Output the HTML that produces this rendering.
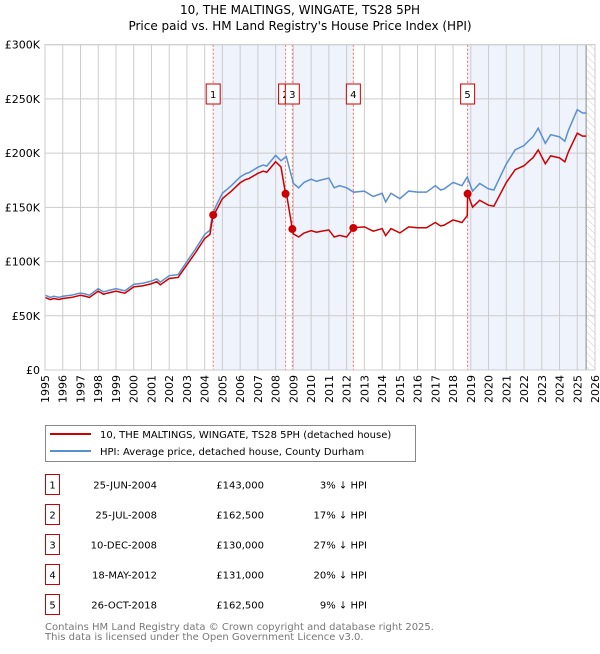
<!DOCTYPE html>
<html><head><meta charset="utf-8"><style>
body{margin:0;background:#fff;font-family:"DejaVu Sans","Liberation Sans",sans-serif;}
svg text{font-family:"DejaVu Sans","Liberation Sans",sans-serif;}
</style></head><body>
<svg id="c" width="600" height="650" xmlns="http://www.w3.org/2000/svg">
<defs><pattern id="hatch" width="5" height="5" patternUnits="userSpaceOnUse" patternTransform="rotate(-45)"><line x1="0" y1="0" x2="0" y2="5" stroke="#ccc" stroke-width="1"/></pattern></defs>
<text x="300" y="14" text-anchor="middle" font-size="12" fill="#000">10, THE MALTINGS, WINGATE, TS28 5PH</text>
<text x="300" y="30" text-anchor="middle" font-size="12" fill="#000">Price paid vs. HM Land Registry's House Price Index (HPI)</text>
<g id="plot"></g>
<g>
<rect x="45.5" y="425.5" width="370" height="36" fill="#fff" stroke="#888"/>
<line x1="50" y1="434" x2="91" y2="434" stroke="#cc0000" stroke-width="2"/>
<text x="100" y="438" font-size="10">10, THE MALTINGS, WINGATE, TS28 5PH (detached house)</text>
<line x1="50" y1="451" x2="91" y2="451" stroke="#5b8fd0" stroke-width="2"/>
<text x="100" y="455" font-size="10">HPI: Average price, detached house, County Durham</text>
</g>
<g id="table"></g>
<text x="45" y="630" font-size="10" fill="#777">Contains HM Land Registry data © Crown copyright and database right 2025.</text>
<text x="45" y="640" font-size="10" fill="#777">This data is licensed under the Open Government Licence v3.0.</text>
</svg>
<script>
const hpiYears=[1995,1995.3,1995.5,1995.8,1996,1996.5,1997,1997.3,1997.5,1998,1998.3,1998.5,1999,1999.5,2000,2000.5,2001,2001.3,2001.5,2002,2002.5,2003,2003.5,2004,2004.3,2004.4,2004.6,2005,2005.5,2006,2006.3,2006.5,2007,2007.3,2007.5,2008,2008.3,2008.6,2009,2009.3,2009.6,2010,2010.3,2010.5,2011,2011.3,2011.6,2012,2012.4,2013,2013.5,2014,2014.2,2014.5,2015,2015.5,2016,2016.5,2017,2017.3,2017.5,2018,2018.5,2018.8,2019.1,2019.5,2019.7,2020,2020.3,2021,2021.5,2022,2022.3,2022.5,2022.8,2023.2,2023.5,2024,2024.3,2024.5,2025,2025.3,2025.5];
const hpiValues=[69,67,68,67,68,69,71,70,69,75,72,73,75,73,79,80,82,84,81,87,88,100,112,125,129,140,150,163,170,178,181,182,187,189,188,198,193,197,172,168,173,176,174,175,177,168,170,168,164,165,160,163,155,163,158,165,164,164,170,166,167,173,170,178,165,172,170,167,166,190,203,207,212,215,223,209,217,215,211,221,240,237,237];
const saleLabels=["1","2","3","4","5"];
const saleDates=[2004.48,2008.56,2008.94,2012.38,2018.82];
const salePrices=[143,162.5,130,131,162.5];
const salePctBelow=[3,17,27,20,9];
const saleDateText=["25-JUN-2004","25-JUL-2008","10-DEC-2008","18-MAY-2012","26-OCT-2018"];
const salePriceText=["£143,000","£162,500","£130,000","£131,000","£162,500"];
const saleHpiText=["3% ↓ HPI","17% ↓ HPI","27% ↓ HPI","20% ↓ HPI","9% ↓ HPI"];
const yTicks=[0,50,100,150,200,250,300];
const yTickLabels=["£0","£50K","£100K","£150K","£200K","£250K","£300K"];
const xTicks=[1995,1996,1997,1998,1999,2000,2001,2002,2003,2004,2005,2006,2007,2008,2009,2010,2011,2012,2013,2014,2015,2016,2017,2018,2019,2020,2021,2022,2023,2024,2025,2026];

const X0=45,X1=595,Y0=370,Y1=44.7;
const xs=t=>X0+(t-1995)/31*(X1-X0);
const ys=v=>Y0-v/300*(Y0-Y1);
const NS="http://www.w3.org/2000/svg";
const plot=document.getElementById('plot');
function mk(tag,attrs,parent){const e=document.createElementNS(NS,tag);for(const k in attrs)e.setAttribute(k,attrs[k]);(parent||plot).appendChild(e);return e;}
function hpiAt(t){for(let i=0;i<hpiYears.length-1;i++){if(t>=hpiYears[i]&&t<=hpiYears[i+1]){const f=(t-hpiYears[i])/(hpiYears[i+1]-hpiYears[i]);return hpiValues[i]+f*(hpiValues[i+1]-hpiValues[i]);}}return hpiValues[hpiValues.length-1];}

const bandStarts=[saleDates[0],saleDates[2],saleDates[4]];
const bandEnds=[saleDates[1],saleDates[3],2025.5];
for(let i=0;i<bandStarts.length;i++){
 const r=mk('rect',{x:xs(bandStarts[i]),y:Y1,width:xs(bandEnds[i])-xs(bandStarts[i]),height:Y0-Y1,fill:'#eef3fc'});
 
 
}
const h=mk('rect',{x:xs(2025.5),y:Y1,width:X1-xs(2025.5),height:Y0-Y1,fill:'url(#hatch)'});


xTicks.forEach((t,i)=>{
 mk('line',{x1:xs(t),x2:xs(t),y1:Y1,y2:Y0,stroke:'#ccc','stroke-width':1});
 const tx=mk('text',{x:0,y:0,'font-size':11,'text-anchor':'end',transform:`translate(${xs(t)+4},${Y0+5}) rotate(-90)`});
 tx.textContent=t;
 
 
});
yTicks.forEach((v,i)=>{
 mk('line',{x1:X0,x2:X1,y1:ys(v),y2:ys(v),stroke:'#ccc','stroke-width':1});
 const tx=mk('text',{x:X0-5,y:ys(v)+4,'font-size':11,'text-anchor':'end'});
 tx.textContent=yTickLabels[i];
 
 
});
mk('line',{x1:xs(2025.5),x2:xs(2025.5),y1:Y1,y2:Y0,stroke:'#888','stroke-width':1});
saleDates.forEach(d=>mk('line',{x1:xs(d),x2:xs(d),y1:Y1,y2:Y0,stroke:'#ff6666','stroke-width':1,'stroke-dasharray':'2,2'}));
const hp=mk('polyline',{points:hpiYears.map((t,i)=>xs(t)+','+ys(hpiValues[i])).join(' '),fill:'none',stroke:'#5b8fd0','stroke-width':1.5});


function ratioAt(t){let k=0;for(let i=0;i<saleDates.length;i++)if(t>=saleDates[i])k=i;return 1-salePctBelow[k]/100;}
const pts=[];
let seg=0;
hpiYears.forEach((t,i)=>{
 while(seg<saleDates.length&&saleDates[seg]<t){pts.push([saleDates[seg],salePrices[seg]]);seg++;}
 pts.push([t,hpiValues[i]*ratioAt(t)]);
});
const pl=mk('polyline',{points:pts.map(p=>xs(p[0])+','+ys(p[1])).join(' '),fill:'none',stroke:'#cc0000','stroke-width':1.5});


saleDates.forEach((d,i)=>{
 const c=mk('circle',{cx:xs(d),cy:ys(salePrices[i]),r:4,fill:'#cc0000'});
 
 
 const g=mk('g',{});
 
 
 mk('rect',{x:xs(d)-7,y:84,width:14,height:20,fill:'#fff',stroke:'#cc0000'},g);
 const t=mk('text',{x:xs(d),y:98,'font-size':10,'text-anchor':'middle'},g);t.textContent=saleLabels[i];
});
mk('rect',{x:X0,y:Y1,width:X1-X0,height:Y0-Y1,fill:'none',stroke:'#ccc'});
const tb=document.getElementById('table');
saleLabels.forEach((l,i)=>{
 const cy=484.5+i*30;
 const g=mk('g',{},tb);
 
 
 mk('rect',{x:45.5,y:cy-10,width:14,height:20,fill:'#fff',stroke:'#cc0000'},g);
 let t=mk('text',{x:52.5,y:cy+4,'font-size':10,'text-anchor':'middle'},g);t.textContent=l;
 t=mk('text',{x:157,y:cy+4,'font-size':10,'text-anchor':'end'},g);t.textContent=saleDateText[i];
 t=mk('text',{x:264,y:cy+4,'font-size':10,'text-anchor':'end'},g);t.textContent=salePriceText[i];
 t=mk('text',{x:367,y:cy+4,'font-size':10,'text-anchor':'end'},g);t.textContent=saleHpiText[i];
});
</script>
</body></html>
